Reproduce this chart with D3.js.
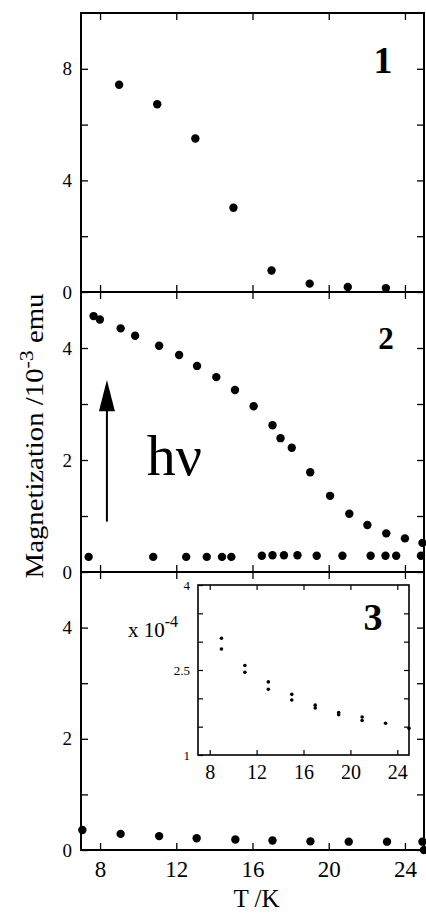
<!DOCTYPE html>
<html>
<head>
<meta charset="utf-8">
<script src="https://cdn.jsdelivr.net/npm/d3@7"></script>
<style>
  body { margin: 0; background: #fff; }
  text { fill: #000; }
</style>
</head>
<body>
<div id="chart"></div>
<script>
// Values: T in K, magnetization in 10^-3 emu
var p1Temp = [9, 11, 13, 15, 17, 19, 21, 23];
var p1Mag  = [7.43, 6.73, 5.5, 3.02, 0.77, 0.3, 0.18, 0.14];

// panel 2, after irradiation (upper) and before (lower)
var p2HvTemp = [7.66, 7.99, 9.08, 9.84, 11.1, 12.15, 13.09, 14.1, 15.08, 16.06,
                17.05, 17.47, 18.06, 19.03, 20.07, 21.08, 22.03, 23.02, 24.0, 24.92];
var p2HvMag  = [4.57, 4.51, 4.35, 4.22, 4.04, 3.875, 3.68, 3.48, 3.25, 2.96,
                2.62, 2.39, 2.22, 1.78, 1.36, 1.04, 0.84, 0.69, 0.6, 0.52];
var p2DarkTemp = [7.4, 10.79, 12.52, 13.6, 14.4, 14.89, 16.49, 17.05, 17.65, 18.36,
                  19.37, 20.72, 22.2, 22.98, 23.54, 24.84];
var p2DarkMag  = [0.27, 0.27, 0.27, 0.27, 0.27, 0.27, 0.29, 0.3, 0.3, 0.3,
                  0.29, 0.29, 0.29, 0.29, 0.29, 0.29];

var p3Temp = [7.07, 9.08, 11.1, 13.07, 15.1, 17.05, 19.04, 21.05, 23.06, 24.92, 25];
var p3Mag  = [0.36, 0.29, 0.25, 0.21, 0.19, 0.17, 0.155, 0.15, 0.15, 0.15, 0];

// inset of panel 3, in 10^-4
var insetTemp = [9, 9, 11, 11, 13, 13, 15, 15, 17, 17, 19, 19, 21, 21, 23, 25];
var insetMag  = [3.06, 2.87, 2.58, 2.46, 2.29, 2.16, 2.07, 1.97, 1.88, 1.83,
                 1.75, 1.71, 1.67, 1.61, 1.56, 1.47];

var tempTicks = [8, 12, 16, 20, 24];

var serif = "'Liberation Serif', 'Times New Roman', serif";
var svgWidth = 426, svgHeight = 913;
var left = 81, right = 424;

var svg = d3.select("#chart").append("svg")
  .attr("width", svgWidth)
  .attr("height", svgHeight)
  .attr("font-family", serif);

var xScale = d3.scaleLinear().domain([7, 25]).range([left, right]);

var panels = [
  { id: "1", top: 13, bottom: 292, yMax: 10, ticks: [0, 2, 4, 6, 8], labels: [0, 4, 8],
    series: [[p1Temp, p1Mag]], tag: { x: 383, y: 73, size: 38 } },
  { id: "2", top: 292, bottom: 572, yMax: 5, ticks: [0, 1, 2, 3, 4], labels: [0, 2, 4],
    series: [[p2HvTemp, p2HvMag], [p2DarkTemp, p2DarkMag]], tag: { x: 386, y: 349, size: 31 } },
  { id: "3", top: 572, bottom: 850, yMax: 5, ticks: [0, 1, 2, 3, 4], labels: [0, 2, 4],
    series: [[p3Temp, p3Mag]], tag: null }
];

panels.forEach(function(p, i) {
  var yScale = d3.scaleLinear().domain([0, p.yMax]).range([p.bottom, p.top]);
  p.yScale = yScale;
  var g = svg.append("g");

  // ticks pointing inward on all four sides
  g.append("g")
    .attr("transform", "translate(" + left + ",0)")
    .call(d3.axisLeft(yScale).tickValues(p.ticks).tickSize(-7).tickPadding(9)
      .tickFormat(function(d) { return p.labels.indexOf(d) >= 0 ? d : ""; }))
    .attr("font-size", 19).attr("font-family", serif);

  g.append("g")
    .attr("transform", "translate(" + right + ",0)")
    .call(d3.axisRight(yScale).tickValues(p.ticks).tickSize(-7).tickFormat(""));

  g.append("g")
    .attr("transform", "translate(0," + p.top + ")")
    .call(d3.axisTop(xScale).tickValues(tempTicks).tickSize(-7).tickFormat(""));

  g.append("g")
    .attr("transform", "translate(0," + p.bottom + ")")
    .call(d3.axisBottom(xScale).tickValues(tempTicks).tickSize(-7).tickPadding(11)
      .tickFormat(i === 2 ? d3.format("d") : ""))
    .attr("font-size", 23).attr("font-family", serif);

  g.selectAll(".domain").remove();
  g.selectAll(".tick line").attr("stroke", "#000").attr("stroke-width", 1.3);
  g.selectAll(".tick text").attr("fill", "#000");

  g.append("rect")
    .attr("x", left).attr("y", p.top)
    .attr("width", right - left).attr("height", p.bottom - p.top)
    .attr("fill", "none").attr("stroke", "#000").attr("stroke-width", 2);

  p.series.forEach(function(s) {
    var pts = s[0].map(function(t, k) { return { t: t, m: s[1][k] }; });
    g.selectAll(null)
      .data(pts)
      .enter()
      .append("circle")
      .attr("cx", d => xScale(d.t))
      .attr("cy", d => yScale(d.m))
      .attr("r", 4.2)
      .attr("fill", "#000");
  });

  if (p.tag) {
    g.append("text")
      .attr("x", p.tag.x).attr("y", p.tag.y)
      .attr("text-anchor", "middle")
      .attr("font-size", p.tag.size)
      .attr("font-weight", "bold")
      .text(p.id);
  }
});

// photo-irradiation arrow and label in panel 2
var y2 = panels[1].yScale;
var arrowX = xScale(8.36);
svg.append("line")
  .attr("x1", arrowX).attr("x2", arrowX)
  .attr("y1", y2(0.9)).attr("y2", y2(2.9))
  .attr("stroke", "#000").attr("stroke-width", 2);
svg.append("path")
  .attr("d", "M" + arrowX + "," + y2(3.43) +
             "L" + (arrowX - 8) + "," + y2(2.87) +
             "L" + (arrowX + 8) + "," + y2(2.87) + "Z")
  .attr("fill", "#000");
svg.append("text")
  .attr("x", xScale(10.45)).attr("y", y2(1.73))
  .attr("font-size", 58)
  .text("h\u03BD");

// inset in panel 3
var ix = d3.scaleLinear().domain([7, 25]).range([198, 409]);
var iy = d3.scaleLinear().domain([1, 4]).range([755, 585]);
var inset = svg.append("g");

inset.append("g")
  .attr("transform", "translate(198,0)")
  .call(d3.axisLeft(iy).tickValues([1, 1.5, 2, 2.5, 3, 3.5, 4]).tickSize(-5).tickPadding(8)
    .tickFormat(function(d) { return [1, 2.5, 4].indexOf(d) >= 0 ? d : ""; }))
  .attr("font-size", 13).attr("font-family", serif);

inset.append("g")
  .attr("transform", "translate(409,0)")
  .call(d3.axisRight(iy).tickValues([1.5, 2, 2.5, 3, 3.5]).tickSize(-5).tickFormat(""));

inset.append("g")
  .attr("transform", "translate(0,585)")
  .call(d3.axisTop(ix).tickValues(tempTicks).tickSize(-5).tickFormat(""));

inset.append("g")
  .attr("transform", "translate(0,755)")
  .call(d3.axisBottom(ix).tickValues(tempTicks).tickSize(-5).tickPadding(10).tickFormat(d3.format("d")))
  .attr("font-size", 20).attr("font-family", serif);

inset.selectAll(".domain").remove();
inset.selectAll(".tick line").attr("stroke", "#000").attr("stroke-width", 1.2);
inset.selectAll(".tick text").attr("fill", "#000");

inset.append("rect")
  .attr("x", 198).attr("y", 585).attr("width", 211).attr("height", 170)
  .attr("fill", "none").attr("stroke", "#000").attr("stroke-width", 1.6);

inset.selectAll(null)
  .data(insetTemp.map(function(t, k) { return { t: t, m: insetMag[k] }; }))
  .enter()
  .append("circle")
  .attr("cx", d => ix(d.t))
  .attr("cy", d => iy(d.m))
  .attr("r", 1.8)
  .attr("fill", "#000");

inset.append("text")
  .attr("x", 373).attr("y", 630)
  .attr("text-anchor", "middle")
  .attr("font-size", 38)
  .attr("font-weight", "bold")
  .text("3");

var scaleNote = inset.append("text")
  .attr("x", 128).attr("y", 637)
  .attr("font-size", 21)
  .text("x 10");
scaleNote.append("tspan")
  .attr("dy", -10)
  .attr("font-size", 16)
  .text("-4");

// axis titles
var yTitle = svg.append("text")
  .attr("transform", "translate(43,436) rotate(-90) scale(1.15,1)")
  .attr("text-anchor", "middle")
  .attr("font-size", 25)
  .text("Magnetization /10");
yTitle.append("tspan").attr("dy", -10).attr("font-size", 19).text("-3");
yTitle.append("tspan").attr("dy", 10).text(" emu");

svg.append("text")
  .attr("x", (left + right) / 2 + 4).attr("y", 907)
  .attr("text-anchor", "middle")
  .attr("font-size", 25)
  .text("T /K");
</script>
</body>
</html>
